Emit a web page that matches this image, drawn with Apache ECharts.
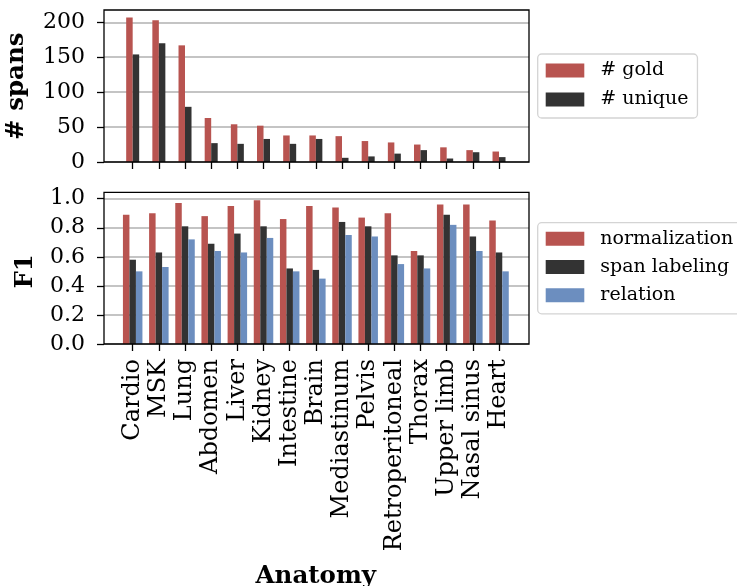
<!DOCTYPE html>
<html>
<head>
<meta charset="utf-8">
<script src="https://cdn.jsdelivr.net/npm/echarts@6/dist/echarts.min.js"></script>
<style>
  html, body { margin: 0; padding: 0; background: #fff; }
  #chart { width: 737px; height: 586px; }
</style>
</head>
<body>
<div id="chart"></div>
<script>
const categories = ['Cardio', 'MSK', 'Lung', 'Abdomen', 'Liver', 'Kidney', 'Intestine', 'Brain',
  'Mediastinum', 'Pelvis', 'Retroperitoneal', 'Thorax', 'Upper limb', 'Nasal sinus', 'Heart'];
const goldCounts = [207, 203, 167, 63, 54, 52, 38, 38, 37, 30, 28, 25, 21, 17, 15];
const uniqueCounts = [154, 170, 79, 27, 26, 33, 26, 33, 6, 8, 12, 17, 5, 14, 7];
const normalizationF1 = [0.89, 0.90, 0.97, 0.88, 0.95, 0.99, 0.86, 0.95, 0.94, 0.87, 0.90, 0.64, 0.96, 0.96, 0.85];
const spanLabelingF1 = [0.58, 0.63, 0.81, 0.69, 0.76, 0.81, 0.52, 0.51, 0.84, 0.81, 0.61, 0.61, 0.89, 0.74, 0.63];
const relationF1 = [0.50, 0.53, 0.72, 0.64, 0.63, 0.73, 0.50, 0.45, 0.75, 0.74, 0.55, 0.52, 0.82, 0.64, 0.50];
const spanTicks = [0, 50, 100, 150, 200];
const f1Ticks = [0.0, 0.2, 0.4, 0.6, 0.8, 1.0];

const FONT = 'DejaVu Serif';
const RED = '#b85450', DARK = '#333333', BLUE = '#6c8ebf';
const GRIDLINE = '#b0b0b0';

const chart = echarts.init(document.getElementById('chart'), null, { renderer: 'canvas' });

function plainGrid(left, top, width, height) {
  return { left: left, top: top, width: width, height: height, outerBoundsMode: 'none', containLabel: false };
}
function frameGrid(top, height) {
  return Object.assign(plainGrid(104, top, 425, height), { show: true,
    borderColor: '#000', borderWidth: 1.3, backgroundColor: 'transparent', z: 5 });
}
function hiddenAxis(idx) { return { type: 'value', gridIndex: idx, show: false, min: 0, max: 1 }; }

function valueAxisWithTicks(idx, ticks, name, nameGap, namePad, fmt) {
  return {
    type: 'value', gridIndex: idx,
    min: ticks[0], max: ticks[ticks.length - 1], interval: ticks[1] - ticks[0],
    axisLine: { show: false },
    axisTick: { show: true, length: 7, lineStyle: { color: '#000', width: 1.3 } },
    axisLabel: { color: '#000', fontFamily: FONT, fontSize: 22, margin: 19, formatter: fmt },
    splitLine: { show: true, lineStyle: { color: GRIDLINE, width: 1.5 } },
    name: name, nameLocation: 'middle', nameGap: nameGap, nameRotate: 90,
    nameTextStyle: { color: '#000', fontFamily: FONT, fontSize: 24.5, fontWeight: 'bold', padding: namePad }
  };
}

const catTick = { show: true, alignWithLabel: true, interval: 0, length: 7, lineStyle: { color: '#000', width: 1.3 } };

const option = {
  animation: false,
  backgroundColor: '#fff',
  grid: [
    frameGrid(10, 152),
    plainGrid(104, 22.3, 425, 139.7),
    plainGrid(119.6, 22.3, 392.5, 139.7),
    frameGrid(192.3, 151.7),
    plainGrid(104, 198.7, 425, 145.3),
    plainGrid(119.6, 198.7, 392.5, 145.3)
  ],
  xAxis: [
    hiddenAxis(0),
    hiddenAxis(1),
    {
      type: 'category', gridIndex: 2, data: categories,
      axisLine: { show: false }, axisTick: catTick, axisLabel: { show: false }
    },
    hiddenAxis(3),
    hiddenAxis(4),
    {
      type: 'category', gridIndex: 5, data: categories,
      axisLine: { show: false }, axisTick: catTick,
      axisLabel: { show: true, rotate: 90, interval: 0, margin: 15, color: '#000', fontFamily: FONT, fontSize: 24 },
      name: 'Anatomy', nameLocation: 'middle', nameGap: 220,
      nameTextStyle: { color: '#000', fontFamily: FONT, fontSize: 24.5, fontWeight: 'bold' }
    }
  ],
  yAxis: [
    hiddenAxis(0),
    valueAxisWithTicks(1, spanTicks, '# spans', 75, [0, 0, 0, 12], v => String(v)),
    { type: 'value', gridIndex: 2, show: false, min: spanTicks[0], max: spanTicks[spanTicks.length - 1] },
    hiddenAxis(3),
    valueAxisWithTicks(4, f1Ticks, 'F1', 66, 0, v => v.toFixed(1)),
    { type: 'value', gridIndex: 5, show: false, min: f1Ticks[0], max: f1Ticks[f1Ticks.length - 1] }
  ],
  legend: [
    {
      data: ['# gold', '# unique'], orient: 'vertical', left: 537.7, top: 54,
      icon: 'rect', itemWidth: 38.6, itemHeight: 14, itemGap: 10,
      backgroundColor: '#fff', borderColor: '#d4d4d4', borderWidth: 1.3, borderRadius: 4,
      padding: [7, 9, 9, 8],
      textStyle: { color: '#000', fontFamily: FONT, fontSize: 19, lineHeight: 14, padding: [0, 0, 0, 11] },
      selectedMode: false
    },
    {
      data: ['normalization', 'span labeling', 'relation'], orient: 'vertical', left: 537.7, top: 222.7,
      icon: 'rect', itemWidth: 38.6, itemHeight: 14, itemGap: 9.3,
      backgroundColor: '#fff', borderColor: '#d4d4d4', borderWidth: 1.3, borderRadius: 4,
      padding: [6.5, 9, 9, 8],
      textStyle: { color: '#000', fontFamily: FONT, fontSize: 19, lineHeight: 14, padding: [0, 0, 0, 11] },
      selectedMode: false
    }
  ],
  series: [
    { name: '# gold', type: 'bar', xAxisIndex: 2, yAxisIndex: 2, data: goldCounts,
      barWidth: 6.5, barGap: '0%', clip: false, itemStyle: { color: RED } },
    { name: '# unique', type: 'bar', xAxisIndex: 2, yAxisIndex: 2, data: uniqueCounts,
      barWidth: 6.5, barGap: '0%', clip: false, itemStyle: { color: DARK } },
    { name: 'normalization', type: 'bar', xAxisIndex: 5, yAxisIndex: 5, data: normalizationF1,
      barWidth: 6.5, barGap: '0%', clip: false, itemStyle: { color: RED } },
    { name: 'span labeling', type: 'bar', xAxisIndex: 5, yAxisIndex: 5, data: spanLabelingF1,
      barWidth: 6.5, barGap: '0%', clip: false, itemStyle: { color: DARK } },
    { name: 'relation', type: 'bar', xAxisIndex: 5, yAxisIndex: 5, data: relationF1,
      barWidth: 6.5, barGap: '0%', clip: false, itemStyle: { color: BLUE } }
  ]
};
chart.setOption(option);
</script>
</body>
</html>
